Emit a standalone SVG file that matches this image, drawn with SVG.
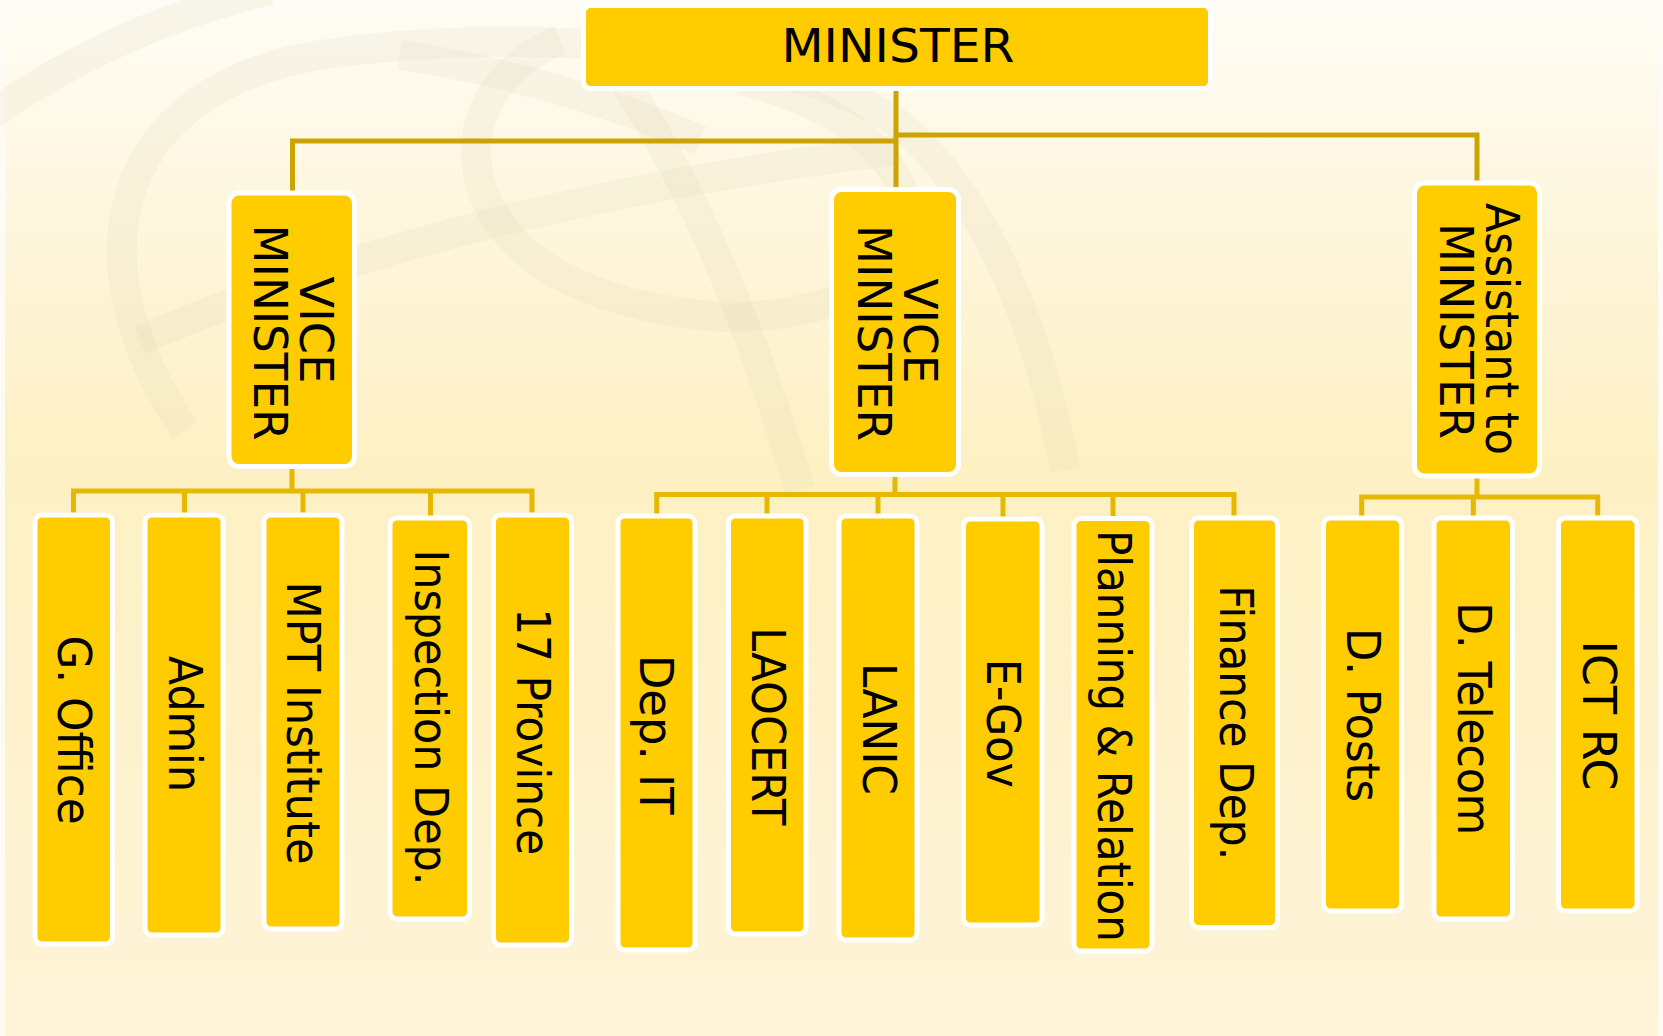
<svg xmlns="http://www.w3.org/2000/svg" width="1663" height="1036" viewBox="0 0 1663 1036">
  <defs>
    <linearGradient id="bg" x1="0" y1="0" x2="0" y2="1">
      <stop offset="0" stop-color="#fefcf5"/>
      <stop offset="0.45" stop-color="#fdf0c3"/>
      <stop offset="1" stop-color="#fef4d8"/>
    </linearGradient>
    <style>
      .box { fill: #ffcc00; stroke: #ffffff; stroke-width: 5; }
      .lbl { font-family: "DejaVu Sans", "Liberation Sans", sans-serif; font-size: 46px; fill: #000000; text-anchor: middle; }
      .top { fill: none; stroke: #cca300; stroke-width: 5; }
      .sub { fill: none; stroke: #e6b800; stroke-width: 5; }
      .globe { fill: none; stroke: #d9cfae; stroke-width: 30; stroke-opacity: 0.15; }
    </style>
  </defs>

  <rect x="0" y="0" width="1663" height="1036" fill="url(#bg)"/>
  <rect x="0" y="0" width="5" height="1036" fill="#fdfbf4"/>
  <rect x="1658" y="0" width="5" height="1036" fill="#fdfbf4"/>

  <g id="watermark">
    <path class="globe" d="M -10 115 Q 120 25 270 -10"/>
    <path class="globe" d="M 185 430 C 70 260 110 90 320 55 C 520 25 790 45 900 125 C 985 195 1040 330 1065 470"/>
    <path class="globe" d="M 560 40 C 440 90 450 230 580 285 C 710 340 860 320 900 250 C 930 190 870 110 740 80"/>
    <path class="globe" d="M 140 340 Q 470 200 900 150"/>
    <path class="globe" d="M 610 60 Q 720 220 800 490"/>
    <path class="globe" d="M 400 55 Q 560 80 700 140"/>
  </g>

  <g id="connectors">
    <path class="top" d="M896 88 V188"/>
    <path class="top" d="M292.5 191 V141 H896"/>
    <path class="top" d="M896 135 H1477 V182"/>

    <path class="sub" d="M292 466 V491"/>
    <path class="sub" d="M73.5 516 V491 H532 V516"/>
    <path class="sub" d="M184.5 491 V516"/>
    <path class="sub" d="M303 491 V516"/>
    <path class="sub" d="M430.5 491 V519"/>

    <path class="sub" d="M895 474 V496"/>
    <path class="sub" d="M656.7 517 V494.5 H1234 V519"/>
    <path class="sub" d="M767 495 V517"/>
    <path class="sub" d="M878 495 V517"/>
    <path class="sub" d="M1003 495 V520"/>
    <path class="sub" d="M1113 495 V519"/>

    <path class="sub" d="M1477 476 V497"/>
    <path class="sub" d="M1361.7 519 V497 H1597.7 V519"/>
    <path class="sub" d="M1473.3 497 V519"/>
  </g>

  <g id="minister">
    <rect class="box" x="583.5" y="5.5" width="627" height="83" rx="7"/>
    <text class="lbl" x="898" y="62" textLength="233" lengthAdjust="spacingAndGlyphs">MINISTER</text>
  </g>

  <g id="vice-minister-1">
    <rect class="box" x="229" y="193" width="125.5" height="273.5" rx="10"/>
    <text class="lbl" transform="translate(300,330) rotate(90)" textLength="107" lengthAdjust="spacingAndGlyphs">VICE</text>
    <text class="lbl" transform="translate(253.5,332.5) rotate(90)" textLength="216" lengthAdjust="spacingAndGlyphs">MINISTER</text>
  </g>

  <g id="vice-minister-2">
    <rect class="box" x="831.5" y="189.5" width="127" height="285" rx="10"/>
    <text class="lbl" transform="translate(903.5,331) rotate(90)" textLength="105" lengthAdjust="spacingAndGlyphs">VICE</text>
    <text class="lbl" transform="translate(857.5,333) rotate(90)" textLength="216" lengthAdjust="spacingAndGlyphs">MINISTER</text>
  </g>

  <g id="assistant">
    <rect class="box" x="1414.5" y="183" width="125" height="293" rx="10"/>
    <text class="lbl" transform="translate(1486,329) rotate(90)" textLength="252" lengthAdjust="spacingAndGlyphs">Assistant to</text>
    <text class="lbl" transform="translate(1439.5,331) rotate(90)" textLength="216" lengthAdjust="spacingAndGlyphs">MINISTER</text>
  </g>

  <g id="g-office">
    <rect class="box" x="35" y="515" width="77.5" height="429" rx="7"/>
    <text class="lbl" transform="translate(58,730) rotate(90)" textLength="189" lengthAdjust="spacingAndGlyphs">G. Office</text>
  </g>
  <g id="admin">
    <rect class="box" x="145" y="515" width="78" height="420" rx="7"/>
    <text class="lbl" transform="translate(168.5,724) rotate(90)" textLength="136" lengthAdjust="spacingAndGlyphs">Admin</text>
  </g>
  <g id="mpt-institute">
    <rect class="box" x="264" y="515" width="78" height="414" rx="7"/>
    <text class="lbl" transform="translate(287,723) rotate(90)" textLength="283" lengthAdjust="spacingAndGlyphs">MPT Institute</text>
  </g>
  <g id="inspection-dep">
    <rect class="box" x="390" y="518" width="79.5" height="401" rx="7"/>
    <text class="lbl" transform="translate(415,717.5) rotate(90)" textLength="336" lengthAdjust="spacingAndGlyphs">Inspection Dep.</text>
  </g>
  <g id="province">
    <rect class="box" x="493.5" y="515" width="78" height="430" rx="7"/>
    <text class="lbl" transform="translate(516.6,731.7) rotate(90)" textLength="247" lengthAdjust="spacingAndGlyphs">17 Province</text>
  </g>

  <g id="dep-it">
    <rect class="box" x="618" y="516" width="77" height="434" rx="7"/>
    <text class="lbl" transform="translate(640,734.7) rotate(90)" textLength="160" lengthAdjust="spacingAndGlyphs">Dep. IT</text>
  </g>
  <g id="laocert">
    <rect class="box" x="728.5" y="516" width="77.5" height="418" rx="7"/>
    <text class="lbl" transform="translate(751.7,726.3) rotate(90)" textLength="198" lengthAdjust="spacingAndGlyphs">LAOCERT</text>
  </g>
  <g id="lanic">
    <rect class="box" x="839" y="516" width="78" height="424" rx="7"/>
    <text class="lbl" transform="translate(862.7,729) rotate(90)" textLength="132" lengthAdjust="spacingAndGlyphs">LANIC</text>
  </g>
  <g id="e-gov">
    <rect class="box" x="963.5" y="519" width="78.5" height="406" rx="7"/>
    <text class="lbl" transform="translate(986.7,723.3) rotate(90)" textLength="129" lengthAdjust="spacingAndGlyphs">E-Gov</text>
  </g>
  <g id="planning">
    <rect class="box" x="1074" y="518.5" width="78" height="432.5" rx="7"/>
    <text class="lbl" transform="translate(1098.3,736) rotate(90)" textLength="412" lengthAdjust="spacingAndGlyphs">Planning &amp; Relation</text>
  </g>
  <g id="finance">
    <rect class="box" x="1191.5" y="518" width="86" height="409.5" rx="7"/>
    <text class="lbl" transform="translate(1220,722.8) rotate(90)" textLength="275" lengthAdjust="spacingAndGlyphs">Finance Dep.</text>
  </g>

  <g id="d-posts">
    <rect class="box" x="1323.5" y="518" width="78" height="393" rx="7"/>
    <text class="lbl" transform="translate(1346.7,715) rotate(90)" textLength="174" lengthAdjust="spacingAndGlyphs">D. Posts</text>
  </g>
  <g id="d-telecom">
    <rect class="box" x="1434" y="518" width="78.5" height="401" rx="7"/>
    <text class="lbl" transform="translate(1458.3,718.7) rotate(90)" textLength="233" lengthAdjust="spacingAndGlyphs">D. Telecom</text>
  </g>
  <g id="ict-rc">
    <rect class="box" x="1558.5" y="518" width="78.5" height="393" rx="7"/>
    <text class="lbl" transform="translate(1583.3,715.5) rotate(90)" textLength="150" lengthAdjust="spacingAndGlyphs">ICT RC</text>
  </g>
</svg>
